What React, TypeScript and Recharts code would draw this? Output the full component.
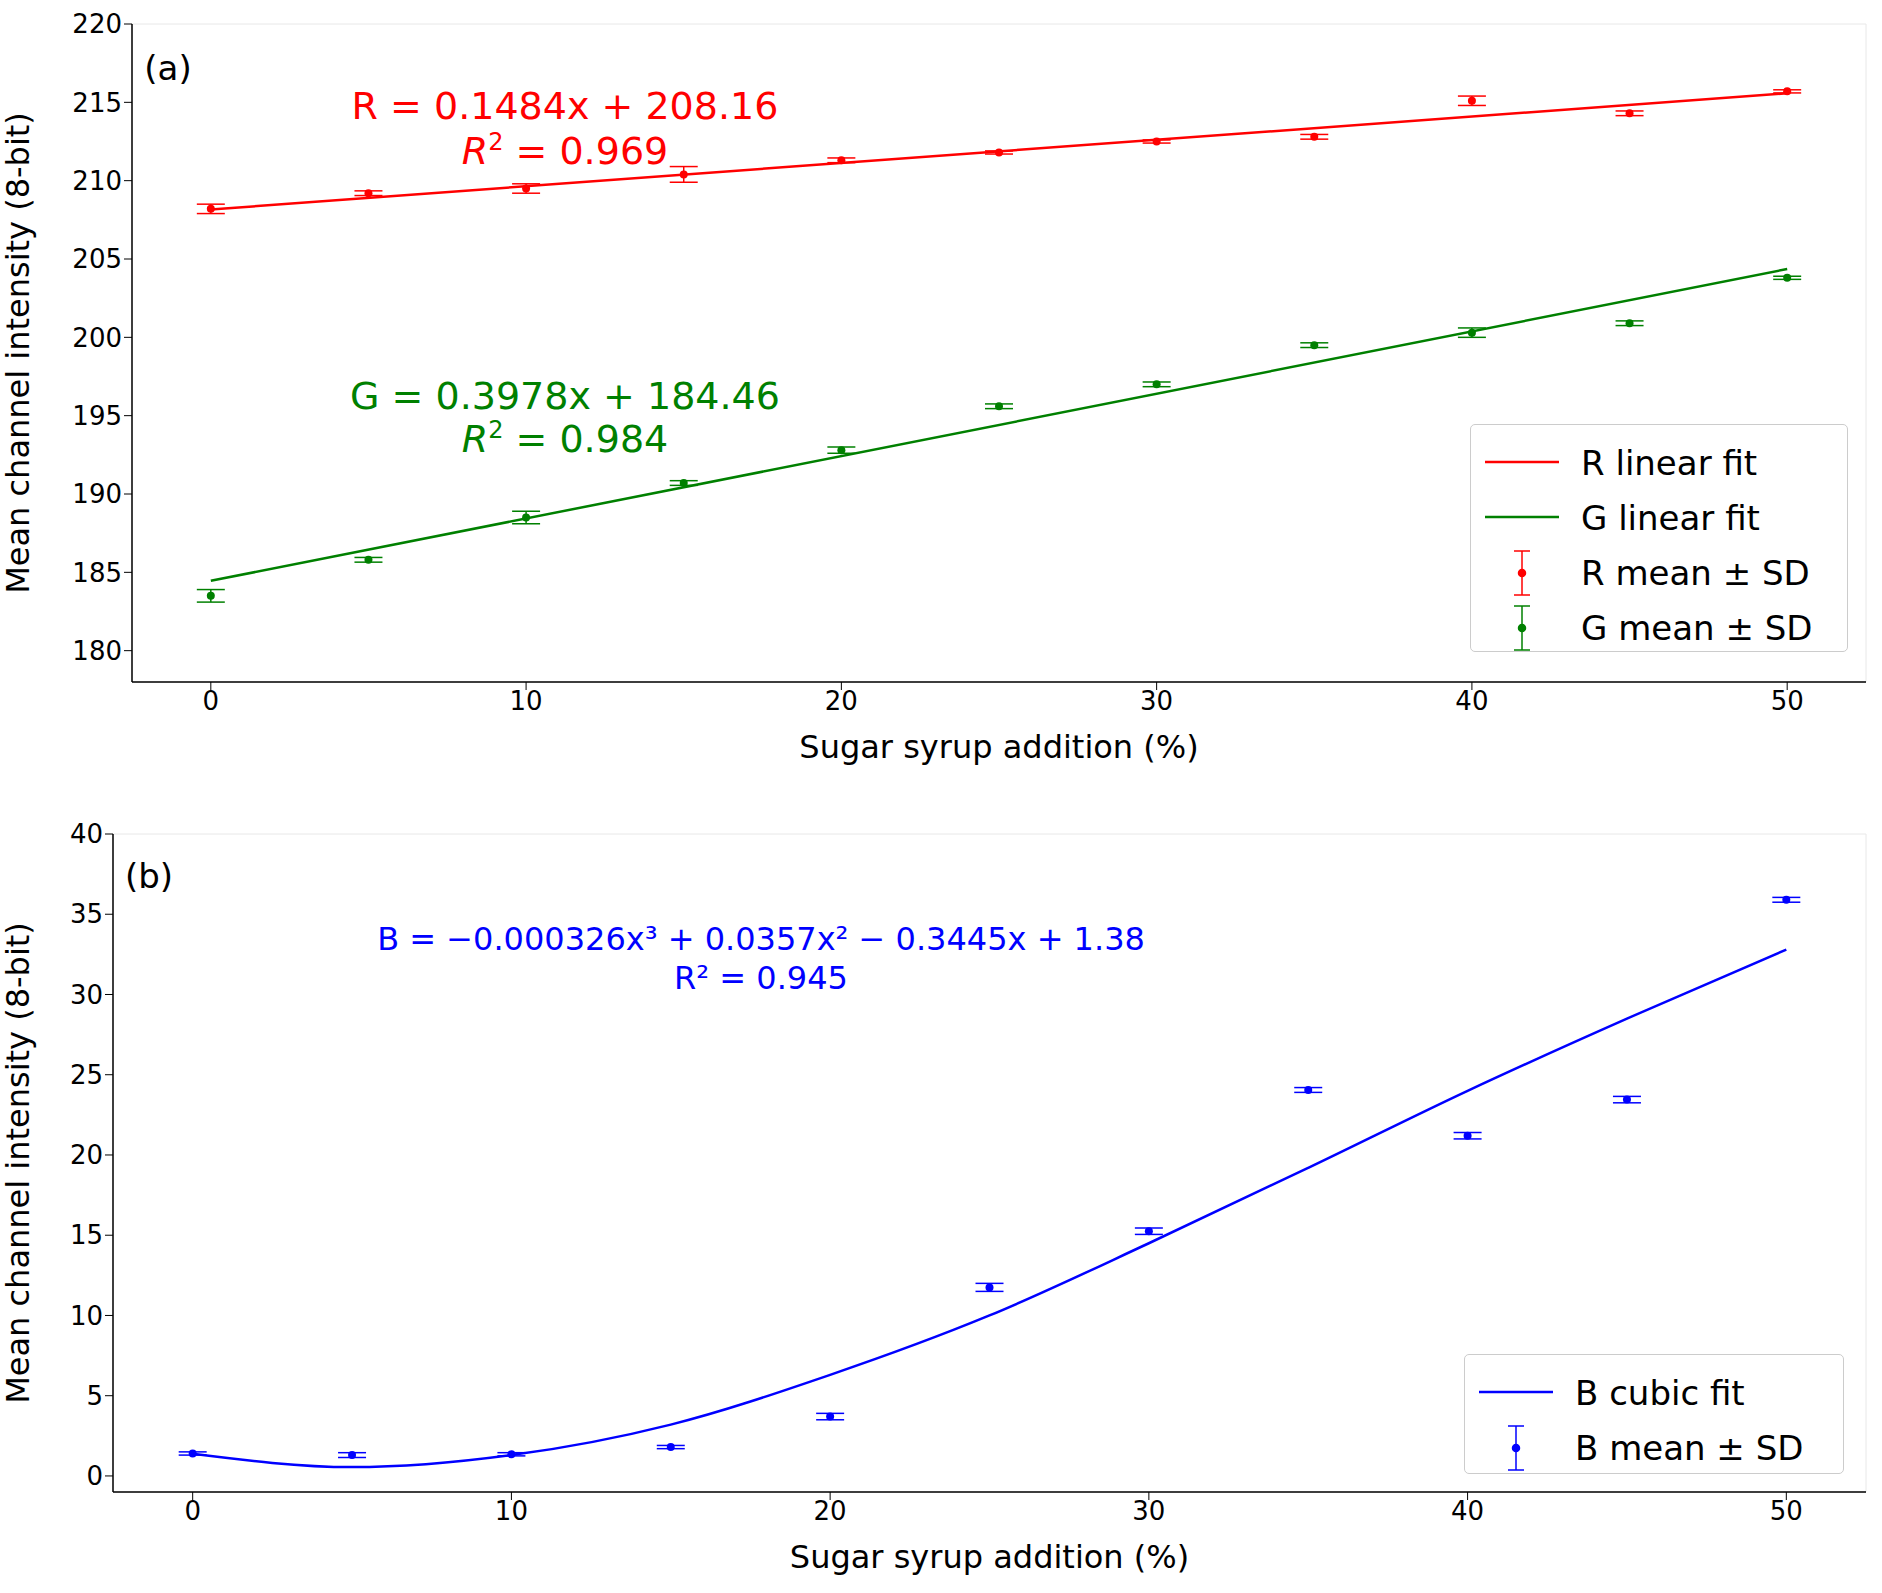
import {
  ComposedChart,
  Line,
  Scatter,
  ErrorBar,
  XAxis,
  YAxis,
  CartesianGrid,
  Label,
} from "recharts";

const xTicks = [0, 10, 20, 30, 40, 50];
const topYTicks = [180, 185, 190, 195, 200, 205, 210, 215, 220];
const botYTicks = [0, 5, 10, 15, 20, 25, 30, 35, 40];

const levels = [0, 5, 10, 15, 20, 25, 30, 35, 40, 45, 50];
const rMean = [208.2, 209.2, 209.5, 210.4, 211.3, 211.8, 212.5, 212.8, 215.1, 214.3, 215.7];
const rSd = [0.3, 0.15, 0.3, 0.5, 0.15, 0.1, 0.1, 0.15, 0.3, 0.15, 0.1];
const gMean = [183.5, 185.8, 188.5, 190.7, 192.8, 195.6, 197.0, 199.5, 200.3, 200.9, 203.8];
const gSd = [0.4, 0.15, 0.4, 0.15, 0.2, 0.15, 0.15, 0.15, 0.3, 0.15, 0.1];
const bMean = [1.4, 1.3, 1.35, 1.8, 3.7, 11.75, 15.25, 24.05, 21.2, 23.45, 35.9];
const bSd = [0.1, 0.15, 0.1, 0.1, 0.2, 0.25, 0.2, 0.15, 0.2, 0.2, 0.15];

const rFit = [
  { x: 0, y: 208.16 },
  { x: 50, y: 215.58 },
];
const gFit = [
  { x: 0, y: 184.46 },
  { x: 50, y: 204.36 },
];
const bFitY = [1.38, 0.55, 1.3, 3.2, 6.3, 10.0, 14.5, 19.2, 24.0, 28.5, 32.8];

const rows = (m: number[], s: number[]) => levels.map((x, i) => ({ x, y: m[i], sd: s[i] }));
const rData = rows(rMean, rSd);
const gData = rows(gMean, gSd);
const bData = rows(bMean, bSd);
const bFit = levels.map((x, i) => ({ x, y: bFitY[i] }));

const RED = "#ff0000";
const GREEN = "#008000";
const BLUE = "#0000ff";
const FONT = "DejaVu Sans";
const tick = { fill: "#000", fontSize: 26, fontFamily: FONT };

const dot = (color: string) => (p: any) => <circle cx={p.cx} cy={p.cy} r={4} fill={color} />;

const Frame = ({ yTicks }: { yTicks: number[] }) => null;

const txt = (x: number, y: number, s: string | any, color: string, size: number) => (
  <div
    style={{
      position: "absolute",
      left: x,
      top: y,
      transform: "translate(-50%, -50%)",
      color,
      fontSize: size,
      whiteSpace: "nowrap",
      fontFamily: FONT,
    }}
  >
    {s}
  </div>
);

const LegendBox = ({ left, top, w, h, items }: any) => (
  <div
    style={{
      position: "absolute",
      left,
      top,
      width: w,
      height: h,
      border: "1px solid #ccc",
      borderRadius: 5,
      background: "rgba(255,255,255,0.85)",
      fontFamily: FONT,
      fontSize: 34,
      boxSizing: "border-box",
    }}
  >
    {items.map((it: any, i: number) => (
      <div key={i} style={{ position: "absolute", left: 0, top: 10 + i * 55, height: 55, display: "flex", alignItems: "center" }}>
        <svg width={110} height={55}>
          {it.kind === "line" ? (
            <line x1={14} x2={88} y1={27} y2={27} stroke={it.color} strokeWidth={2.5} />
          ) : (
            <g stroke={it.color} strokeWidth={1.5}>
              <line x1={51} x2={51} y1={6} y2={50} />
              <line x1={43} x2={59} y1={6} y2={6} />
              <line x1={43} x2={59} y1={50} y2={50} />
              <circle cx={51} cy={28} r={3.5} fill={it.color} />
            </g>
          )}
        </svg>
        <span>{it.label}</span>
      </div>
    ))}
  </div>
);

const Panel = ({ height, margin, yWidth, yDomain, yTicks, children }: any) => (
  <ComposedChart width={1882} height={height} margin={margin}>
    <CartesianGrid stroke="#e8e8e8" strokeWidth={1} />
    <XAxis
      xAxisId="b"
      type="number"
      dataKey="x"
      domain={[-2.5, 52.5]}
      ticks={xTicks}
      tick={tick}
      tickSize={8}
      axisLine={{ stroke: "#000", strokeWidth: 1.5 }}
      tickLine={{ stroke: "#000" }}
      height={80}
      allowDataOverflow
    >
      <Label value="Sugar syrup addition (%)" position="insideBottom" offset={4} style={{ fontSize: 32, fill: "#000", fontFamily: FONT }} />
    </XAxis>
    <XAxis xAxisId="t" orientation="top" type="number" domain={[-2.5, 52.5]} tick={false} tickLine={false} height={0} axisLine={{ stroke: "#000", strokeWidth: 1.5 }} />
    <YAxis
      yAxisId="l"
      type="number"
      domain={yDomain}
      ticks={yTicks}
      tick={tick}
      tickSize={8}
      width={yWidth}
      axisLine={{ stroke: "#000", strokeWidth: 1.5 }}
      tickLine={{ stroke: "#000" }}
      allowDataOverflow
    >
      <Label value="Mean channel intensity (8-bit)" angle={-90} position="insideLeft" offset={8} style={{ fontSize: 32, fill: "#000", fontFamily: FONT, textAnchor: "middle" }} />
    </YAxis>
    <YAxis yAxisId="r" orientation="right" domain={yDomain} tick={false} tickLine={false} width={0} axisLine={{ stroke: "#000", strokeWidth: 1.5 }} />
    {children}
  </ComposedChart>
);

export default function App() {
  return (
    <div style={{ position: "absolute", left: 0, top: 0, width: 1882, height: 1593, background: "#fff", fontFamily: FONT }}>
      <div style={{ position: "absolute", left: 0, top: 0 }}>
        <Panel height={800} margin={{ top: 24, right: 16, bottom: 38, left: 10 }} yWidth={122} yDomain={[178, 220]} yTicks={topYTicks}>
          <Line xAxisId="b" yAxisId="l" data={rFit} dataKey="y" stroke={RED} strokeWidth={2.5} dot={false} isAnimationActive={false} />
          <Line xAxisId="b" yAxisId="l" data={gFit} dataKey="y" stroke={GREEN} strokeWidth={2.5} dot={false} isAnimationActive={false} />
          <Scatter xAxisId="b" yAxisId="l" data={rData} dataKey="y" shape={dot(RED)} isAnimationActive={false}>
            <ErrorBar dataKey="sd" direction="y" width={14} stroke={RED} strokeWidth={1.5} />
          </Scatter>
          <Scatter xAxisId="b" yAxisId="l" data={gData} dataKey="y" shape={dot(GREEN)} isAnimationActive={false}>
            <ErrorBar dataKey="sd" direction="y" width={14} stroke={GREEN} strokeWidth={1.5} />
          </Scatter>
        </Panel>
      </div>
      <div style={{ position: "absolute", left: 0, top: 800 }}>
        <Panel height={793} margin={{ top: 34, right: 16, bottom: 21, left: 10 }} yWidth={103} yDomain={[-1, 40]} yTicks={botYTicks}>
          <Line xAxisId="b" yAxisId="l" data={bFit} dataKey="y" type="monotone" stroke={BLUE} strokeWidth={2.5} dot={false} isAnimationActive={false} />
          <Scatter xAxisId="b" yAxisId="l" data={bData} dataKey="y" shape={dot(BLUE)} isAnimationActive={false}>
            <ErrorBar dataKey="sd" direction="y" width={14} stroke={BLUE} strokeWidth={1.5} />
          </Scatter>
        </Panel>
      </div>
      {txt(168, 68, "(a)", "#000", 34)}
      {txt(565, 106, "R = 0.1484x + 208.16", RED, 38)}
      {txt(565, 150, <span><i>R</i><sup style={{ fontSize: 24 }}>2</sup> = 0.969</span>, RED, 38)}
      {txt(565, 396, "G = 0.3978x + 184.46", GREEN, 38)}
      {txt(565, 438, <span><i>R</i><sup style={{ fontSize: 24 }}>2</sup> = 0.984</span>, GREEN, 38)}
      {txt(149, 876, "(b)", "#000", 34)}
      {txt(761, 939, "B = −0.000326x³ + 0.0357x² − 0.3445x + 1.38", BLUE, 32)}
      {txt(761, 978, "R² = 0.945", BLUE, 32)}
      <LegendBox
        left={1470}
        top={424}
        w={378}
        h={228}
        items={[
          { kind: "line", color: RED, label: "R linear fit" },
          { kind: "line", color: GREEN, label: "G linear fit" },
          { kind: "err", color: RED, label: "R mean ± SD" },
          { kind: "err", color: GREEN, label: "G mean ± SD" },
        ]}
      />
      <LegendBox
        left={1464}
        top={1354}
        w={380}
        h={120}
        items={[
          { kind: "line", color: BLUE, label: "B cubic fit" },
          { kind: "err", color: BLUE, label: "B mean ± SD" },
        ]}
      />
    </div>
  );
}
